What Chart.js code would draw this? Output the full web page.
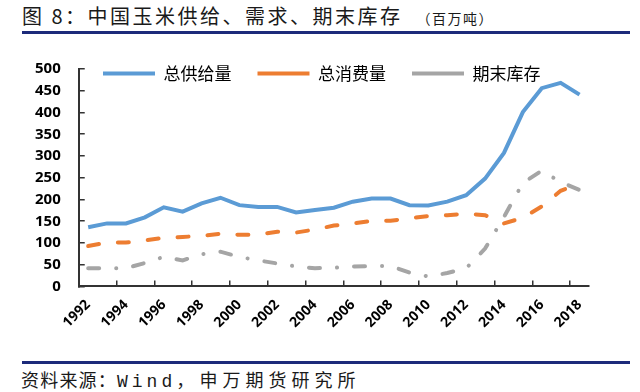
<!DOCTYPE html>
<html>
<head>
<meta charset="utf-8">
<script src="https://cdn.jsdelivr.net/npm/chart.js@4.4.1/dist/chart.umd.min.js"></script>
<style>
  body { margin: 0; width: 640px; height: 392px; background: #fff; position: relative; overflow: hidden;
         font-family: "Noto Sans CJK SC", sans-serif; }
  #title { position: absolute; left: 22px; top: 1px; font-size: 20px; letter-spacing: 2.5px; color: #1a1a1a; white-space: nowrap; line-height: 29px; }
  #title span { font-size: 14px; letter-spacing: 1.5px; margin-left: 14px; }
  .rule { position: absolute; left: 22px; width: 608px; height: 3px; background: #1c2a7a; }
  #src { position: absolute; left: 21px; top: 366px; font-size: 18px; letter-spacing: 1.2px; color: #1a1a1a; white-space: nowrap; line-height: 26px; }
  #src .en { font-family: "Liberation Mono", monospace; letter-spacing: 4px; margin-left: 0px; }
  #src .org { letter-spacing: 5px; margin-left: 4px; }
  #wrap { position: absolute; left: 0; top: 0; width: 640px; height: 347px; }
</style>
</head>
<body>
<div id="title">图 8：中国玉米供给、需求、期末库存<span>（百万吨）</span></div>
<div class="rule" style="top:31px"></div>
<div id="wrap"><canvas id="cornChart" width="640" height="347"></canvas></div>
<div class="rule" style="top:361px"></div>
<div id="src">资料来源：<span class="en">Wind</span>，<span class="org">申万期货研究所</span></div>

<script>
const years = ['1992','1993','1994','1995','1996','1997','1998','1999','2000','2001','2002','2003','2004','2005',
               '2006','2007','2008','2009','2010','2011','2012','2013','2014','2015','2016','2017','2018'];
const supply = [136,145,145,159,182,172,191,204,187,183,183,170,176,181,195,202,202,187,186,195,210,248,307,401,456,468,441];
const consumption = [93,101,101,106,112,114,116,121,119,119,126,124,131,140,145,151,151,157,162,164,167,164,145,158,184,220,236];
const stocks = [42,42,42,54,68,60,74,80,68,60,53,46,42,43,46,47,47,32,23,31,42,87,160,238,266,240,222];
const yTicks = [0,50,100,150,200,250,300,350,400,450,500];

const axisColor = '#333333';

// move the legend down so it sits inside the plot area, like the original
const legendInside = {
  id: 'legendInside',
  afterLayout(chart) {
    const lg = chart.legend;
    const h = lg.bottom - lg.top;
    lg.top = chart.chartArea.top - 30;
    lg.bottom = lg.top + h;
    lg.left = 77;
    lg.right = 640;
  }
};

new Chart(document.getElementById('cornChart'), {
  type: 'line',
  data: {
    labels: years,
    datasets: [{
      label: '总供给量',
      data: supply,
      borderColor: '#5B9BD5',
      backgroundColor: '#5B9BD5',
      borderWidth: 4,
      pointRadius: 0,
      tension: 0
    }, {
      label: '总消费量',
      data: consumption,
      borderColor: '#ED7D31',
      backgroundColor: '#ED7D31',
      borderWidth: 4,
      borderDash: [11, 19],
      borderCapStyle: 'round',
      pointRadius: 0,
      tension: 0
    }, {
      label: '期末库存',
      data: stocks,
      borderColor: '#A5A5A5',
      backgroundColor: '#A5A5A5',
      borderWidth: 4,
      borderDash: [11, 17, 0.1, 17],
      borderCapStyle: 'round',
      pointRadius: 0,
      tension: 0
    }]
  },
  options: {
    responsive: false,
    animation: false,
    layout: { padding: { left: 11, right: 51, top: 16, bottom: 0 } },
    plugins: {
      tooltip: { enabled: false },
      legend: {
        position: 'top',
        align: 'start',
        labels: {
          usePointStyle: true,
          pointStyle: 'line',
          pointStyleWidth: 52,
          padding: 26,
          color: '#000',
          font: { family: '"Noto Sans CJK SC", sans-serif', size: 17 }
        }
      }
    },
    scales: {
      x: {
        offset: true,
        grid: {
          offset: true,
          drawOnChartArea: false,
          tickLength: -6,
          color: ctx => ctx.index % 2 === 0 ? axisColor : 'rgba(0,0,0,0)',
          lineWidth: 1.5
        },
        border: { color: axisColor, width: 2 },
        ticks: {
          autoSkip: false,
          maxRotation: 45,
          minRotation: 45,
          padding: 16,
          color: '#000',
          font: { family: '"Open Sans", sans-serif', size: 14, weight: 'bold' },
          callback: function (v, i) { return i % 2 === 0 ? this.getLabelForValue(v) : ''; }
        }
      },
      y: {
        min: 0,
        max: 500,
        afterBuildTicks: axis => { axis.ticks = yTicks.map(v => ({ value: v })); },
        grid: { drawOnChartArea: false, tickLength: -6, color: axisColor, lineWidth: 1.5 },
        border: { color: axisColor, width: 2 },
        ticks: { padding: 24, color: '#000', font: { family: '"Open Sans", sans-serif', size: 15, weight: 'bold' } }
      }
    }
  },
  plugins: [legendInside]
});
</script>
</body>
</html>
